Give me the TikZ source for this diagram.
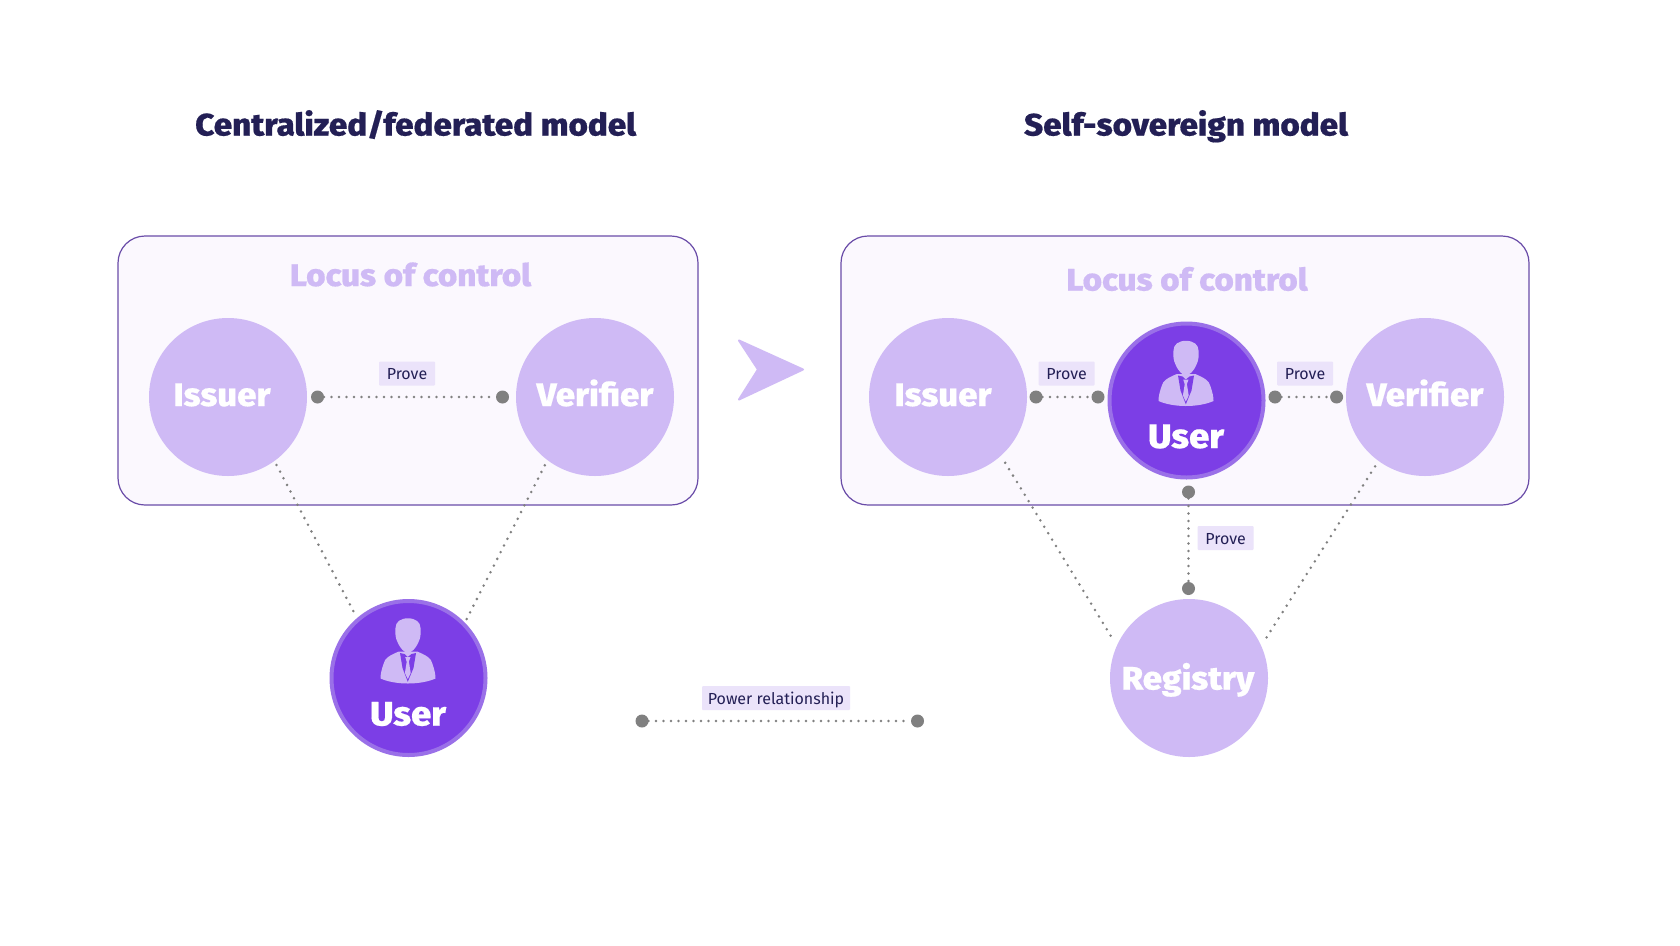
\documentclass[tikz,border=0pt]{standalone}
\usepackage{fontspec}
\setmainfont{Fira Sans}
\newfontfamily\heavy[FakeStretch=1.07,FakeBold=0.5]{Fira Sans ExtraBold}
\definecolor{lilac}{HTML}{CFBAF5}
\definecolor{deep}{HTML}{7C3EE6}
\definecolor{deepedge}{HTML}{9A70E8}
\definecolor{panel}{HTML}{FBF8FE}
\definecolor{panedge}{HTML}{6A4CA8}
\definecolor{tag}{HTML}{EBE3FA}
\definecolor{ink}{HTML}{231F55}
\definecolor{dotgrey}{HTML}{808080}
\tikzset{
  panelbox/.style={draw=panedge,line width=1.2pt,fill=panel,rounded corners=27pt,inner sep=0pt,outer sep=0pt},
  lightcirc/.style={circle,fill=lilac,minimum size=158pt,inner sep=0pt,outer sep=0pt},
  usercirc/.style={circle,fill=deep,draw=deepedge,line width=4pt,minimum size=154pt,inner sep=0pt,outer sep=0pt},
  circtext/.style={anchor=base,text=white,font=\heavy\fontsize{32.5}{38}\selectfont,inner sep=0pt},
  titletext/.style={anchor=base,text=ink,font=\heavy\fontsize{31}{36}\selectfont,inner sep=0pt},
  locus/.style={anchor=base,text=lilac,font=\heavy\fontsize{31}{36}\selectfont,inner sep=0pt},
  tagbox/.style={fill=tag,text=ink,font=\fontsize{16}{20}\selectfont,inner sep=0pt,minimum height=24pt,text height=12pt,text depth=0pt,rounded corners=1pt},
  enddot/.style={circle,fill=dotgrey,minimum size=13pt,inner sep=0pt,outer sep=0pt},
  dotline/.style={draw=dotgrey,line width=2.8pt,line cap=round,dash pattern=on 0pt off 7.5pt},
  person/.pic={
    \fill[lilac] (-0.7,-59.7) .. controls (-8,-59.7) and (-13,-56) .. (-13,-50)
      .. controls (-13.5,-44) and (-13,-40) .. (-11,-36)
      .. controls (-8,-29) and (-4,-25.3) .. (-0.7,-25.3)
      .. controls (3,-25.3) and (7,-29) .. (10,-36)
      .. controls (12,-40) and (12.5,-44) .. (12,-50)
      .. controls (12,-56) and (7,-59.7) .. (-0.7,-59.7) -- cycle;
    \fill[lilac] (-9.7,-26.5) .. controls (-18,-23) and (-24,-20) .. (-25,-14)
      .. controls (-27,-8) and (-28,-4) .. (-28,0.5)
      .. controls (-20,4) and (-10,5.5) .. (-0.7,5.5)
      .. controls (9,5.5) and (19,4) .. (27,0.5)
      .. controls (27,-4) and (26,-8) .. (24,-14)
      .. controls (23,-20) and (17,-23) .. (8.7,-26.5) -- cycle;
    \fill[deep] (-8.5,-25) -- (-4,-24) -- (-0.7,-21) -- (3,-24) -- (7.5,-25) -- (5,-10) -- (-0.7,3.8) -- (-6,-10) -- cycle;
    \fill[lilac] (-3.3,-21) -- (2,-21) -- (0.4,-16.3) -- (2.2,-5) -- (-0.7,1) -- (-3.6,-5) -- (-1.8,-16.3) -- cycle;
  }
}
\begin{document}
\begin{tikzpicture}[x=1pt,y=-1pt]
\useasboundingbox (0,0) rectangle (1680,945);
\fill[white] (0,0) rectangle (1680,945);
% panels
\node[panelbox,minimum width=580pt,minimum height=269pt] (leftpanel) at (408,370.5) {};
\node[panelbox,minimum width=688pt,minimum height=269pt] (rightpanel) at (1185,370.5) {};
% titles
\node[titletext] (lefttitle) at (415.7,135.5) {Centralized/federated model};
\node[titletext] (righttitle) at (1186,135.5) {Self-sovereign model};
\node[locus] (leftlocus) at (410.5,286) {Locus of control};
\node[locus] (rightlocus) at (1187,290.5) {Locus of control};
% circles
\node[lightcirc] (liss) at (228,397) {};
\node[lightcirc] (lver) at (595,397) {};
\node[usercirc] (lusr) at (408.5,678) {};
\node[lightcirc] (riss) at (948,397) {};
\node[lightcirc] (rver) at (1425,397) {};
\node[usercirc] (rusr) at (1186.5,400.5) {};
\node[lightcirc] (rreg) at (1189,678) {};
\node[circtext] (lisst) at (222,406) {Issuer};
\node[circtext] (lvert) at (595,406) {Verifier};
\node[circtext,font=\heavy\fontsize{34}{40}\selectfont] (lusrt) at (408,725.5) {User};
\node[circtext] (risst) at (943,406) {Issuer};
\node[circtext] (rvert) at (1425,406) {Verifier};
\node[circtext,font=\heavy\fontsize{34}{40}\selectfont] (rusrt) at (1186,448) {User};
\node[circtext] (rregt) at (1188,689.5) {Registry};
\pic at (408.5,678) {person};
\pic at (1186.5,400.5) {person};
% dots
\node[enddot] (a1) at (317.5,397) {};
\node[enddot] (a2) at (502.5,397) {};
\node[enddot] (b1) at (1036,397) {};
\node[enddot] (b2) at (1098,397) {};
\node[enddot] (c1) at (1275,397) {};
\node[enddot] (c2) at (1336.6,397) {};
\node[enddot] (d1) at (1188.5,492) {};
\node[enddot] (d2) at (1188.5,588.5) {};
\node[enddot] (e1) at (642,721) {};
\node[enddot] (e2) at (917.5,721) {};
% connectors
\draw[dotline] (a1) -- (a2);
\draw[dotline] (b1) -- (b2);
\draw[dotline] (c1) -- (c2);
\draw[dotline] (d1) -- (d2);
\draw[dotline] (e1) -- (e2);
\draw[dotline,shorten <=4.6pt,shorten >=3.4pt] (liss.-54) -- (lusr.131.3);
\draw[dotline,shorten <=5.8pt,shorten >=4.5pt] (lver.-127.4) -- (lusr.44.9);
\draw[dotline,shorten <=8.3pt,shorten >=11.1pt] (riss.-48.2) -- (rreg.156.1);
\draw[dotline,shorten <=6.5pt,shorten >=5.5pt] (rver.-126.5) -- (rreg.24.5);
% tags
\node[tagbox,minimum width=56pt] (t1) at (407,373.5) {Prove};
\node[tagbox,minimum width=56pt] (t2) at (1066.6,373.5) {Prove};
\node[tagbox,minimum width=56pt] (t3) at (1305,373.5) {Prove};
\node[tagbox,minimum width=56pt] (t4) at (1225.7,538) {Prove};
\node[tagbox,minimum width=148pt] (t5) at (776,698) {Power relationship};
% arrow
\fill[lilac,draw=lilac,line width=2pt,line join=round] (739,340.5) -- (803,369.5) -- (739,399.5) -- (758,369.5) -- cycle;
\end{tikzpicture}
\end{document}
